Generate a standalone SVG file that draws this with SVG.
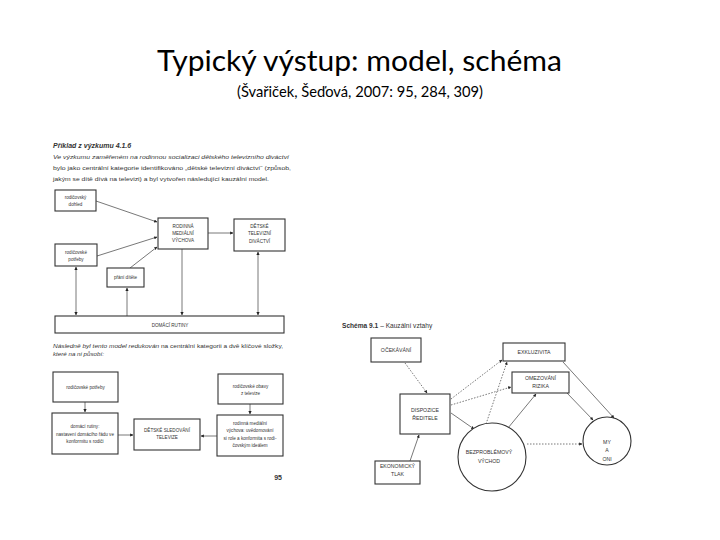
<svg xmlns="http://www.w3.org/2000/svg" width="720" height="540" viewBox="0 0 720 540">
<defs>
<marker id="ah" viewBox="0 0 10 10" refX="9" refY="5" markerWidth="4" markerHeight="4" orient="auto-start-reverse">
<path d="M0,0 L10,5 L0,10 z" fill="#222"/>
</marker>
<style>
.t{font-family:"Lato","Liberation Sans",sans-serif;fill:#000}
.s{font-family:"Liberation Sans",Arial,sans-serif;fill:#333}
.lb{font-family:"Liberation Sans",Arial,sans-serif;font-size:4.6px;fill:#333;text-anchor:middle}
.rb{font-family:"Liberation Sans",Arial,sans-serif;font-size:5.2px;fill:#333;text-anchor:middle}
.bx{fill:#fff;stroke:#333;stroke-width:1.1}
.ln{fill:none;stroke:#666;stroke-width:0.8}
.ar{fill:none;stroke:#555;stroke-width:0.8;marker-end:url(#ah)}
.dar{fill:none;stroke:#555;stroke-width:0.8;marker-end:url(#ah);marker-start:url(#ah)}
.dot{fill:none;stroke:#555;stroke-width:0.8;stroke-dasharray:1.5 1.5;marker-end:url(#ah)}
</style>
</defs>
<rect width="720" height="540" fill="#fff"/>

<g id="title">
<text class="t" x="359.5" y="71" font-size="28" text-anchor="middle" textLength="405" lengthAdjust="spacingAndGlyphs">Typický výstup: model, schéma</text>
<text class="t" x="360" y="97" font-size="15" text-anchor="middle" textLength="246" lengthAdjust="spacingAndGlyphs">(Švařiček, Šeďová, 2007: 95, 284, 309)</text>
</g>

<g id="left-text">
<text class="s" x="53" y="148" font-size="7" font-weight="bold" font-style="italic">Příklad z výzkumu 4.1.6</text>
<text class="s" x="53" y="159" font-size="6.2" font-style="italic" textLength="236" lengthAdjust="spacingAndGlyphs">Ve výzkumu zaměřeném na rodinnou socializaci dětského televizního diváctví</text>
<text class="s" x="53" y="170" font-size="6.2" textLength="238" lengthAdjust="spacingAndGlyphs">bylo jako centrální kategorie identifikováno „dětské televizní diváctví“ (způsob,</text>
<text class="s" x="53" y="181" font-size="6.2" textLength="216" lengthAdjust="spacingAndGlyphs">jakým se dítě dívá na televizi) a byl vytvořen následující kauzální model.</text>
<text class="s" x="53" y="348" font-size="6.2" textLength="230" lengthAdjust="spacingAndGlyphs"><tspan font-style="italic">Následně byl tento model redukován</tspan> na centrální kategorii a dvě klíčové složky,</text>
<text class="s" x="53" y="356" font-size="6.2" font-style="italic">které na ni působí:</text>
<text class="s" x="282" y="480" font-size="7" font-weight="bold" text-anchor="end">95</text>
</g>

<g id="left-connectors">
<path class="ar" d="M96,201 L157,222"/>
<path class="ar" d="M97,256 L157,237"/>
<path class="ar" d="M130,268 L157,247"/>
<path class="ar" d="M208,233 L233,233"/>
<path class="ar" d="M182,249 L182,315"/>
<path class="dar" d="M258,252 L258,315"/>
<path class="dar" d="M76,267 L76,315"/>
<path class="ar" d="M127,316 L127,288"/>
<path class="ar" d="M85,402 L85,412"/>
<path class="ar" d="M250,404 L250,414"/>
<path class="ar" d="M118,435 L133,435"/>
<path class="ar" d="M217,436 L201,436"/>
</g>

<g id="n-rodicovsky-dohled">
<rect class="bx" x="55" y="190" width="41" height="21"/>
<text class="lb" x="75.5" y="198.5">rodičovský</text>
<text class="lb" x="75.5" y="205.5">dohled</text>
</g>
<g id="n-rodinna-medialni-vychova">
<rect class="bx" x="158" y="218" width="50" height="31"/>
<text class="lb" x="183" y="227.5">RODINNÁ</text>
<text class="lb" x="183" y="234.5">MEDIÁLNÍ</text>
<text class="lb" x="183" y="242">VÝCHOVA</text>
</g>
<g id="n-detske-televizni-divactvi">
<rect class="bx" x="234" y="219" width="51" height="32"/>
<text class="lb" x="259.5" y="228">DĚTSKÉ</text>
<text class="lb" x="259.5" y="235">TELEVIZNÍ</text>
<text class="lb" x="259.5" y="242.5">DIVÁCTVÍ</text>
</g>
<g id="n-rodicovske-potreby">
<rect class="bx" x="55" y="244" width="42" height="22"/>
<text class="lb" x="76" y="253.5">rodičovské</text>
<text class="lb" x="76" y="260.5">potřeby</text>
</g>
<g id="n-prani-ditete">
<rect class="bx" x="107" y="268" width="37" height="19"/>
<text class="lb" x="125.5" y="279">přání dítěte</text>
</g>
<g id="n-domaci-rutiny">
<rect class="bx" x="55" y="316" width="229" height="17"/>
<text class="lb" x="170" y="327">DOMÁCÍ RUTINY</text>
</g>

<g id="n-b-rodicovske-potreby">
<rect class="bx" x="53" y="372" width="65" height="30"/>
<text class="lb" x="85.5" y="389">rodičovské potřeby</text>
</g>
<g id="n-b-domaci-rutiny">
<rect class="bx" x="52" y="413" width="66" height="41"/>
<text class="lb" x="85" y="428">domácí rutiny:</text>
<text class="lb" x="85" y="435.5">nastavení domácího řádu ve</text>
<text class="lb" x="85" y="443">konformitu s rodiči</text>
</g>
<g id="n-b-detske-sledovani">
<rect class="bx" x="134" y="419" width="66" height="31"/>
<text class="lb" x="167" y="431.5">DĚTSKÉ SLEDOVÁNÍ</text>
<text class="lb" x="167" y="438.5">TELEVIZE</text>
</g>
<g id="n-b-rodicovske-obavy">
<rect class="bx" x="218" y="374" width="65" height="30"/>
<text class="lb" x="250.5" y="388">rodičovské obavy</text>
<text class="lb" x="250.5" y="395">z televize</text>
</g>
<g id="n-b-rodinna-vychova">
<rect class="bx" x="217" y="415" width="66" height="41"/>
<text class="lb" x="250" y="424.5">rodinná mediální</text>
<text class="lb" x="250" y="432">výchova: uvědomování</text>
<text class="lb" x="250" y="439.5">si role a konformita s rodi-</text>
<text class="lb" x="250" y="447">čovským ideálem</text>
</g>

<g id="right-title">
<text class="s" x="342" y="328" font-size="6.6"><tspan font-weight="bold">Schéma 9.1</tspan> – Kauzální vztahy</text>
</g>

<g id="right-connectors">
<path class="dot" d="M405,363 L427,393"/>
<path class="ar" d="M410,461 L419,435"/>
<path class="dot" d="M451,399 L502,360"/>
<path class="dot" d="M451,405 L511,387"/>
<path class="ar" d="M451,413 L474,429"/>
<path class="dot" d="M486,424 L507,362"/>
<path class="ar" d="M508,428 L536,394"/>
<path class="dot" d="M527,444 L582,444"/>
<path class="ar" d="M563,362 L614,418"/>
<path class="ar" d="M567,393 L593,420"/>
</g>

<g id="n-ocekavani">
<rect class="bx" x="371" y="338" width="50" height="24"/>
<text class="rb" x="396" y="352">OČEKÁVÁNÍ</text>
</g>
<g id="n-exkluzivita">
<rect class="bx" x="503" y="343" width="62" height="18"/>
<text class="rb" x="534" y="354">EXKLUZIVITA</text>
</g>
<g id="n-omezovani-rizika">
<rect class="bx" x="512" y="372" width="57" height="21"/>
<text class="rb" x="540.5" y="380">OMEZOVÁNÍ</text>
<text class="rb" x="540.5" y="388">RIZIKA</text>
</g>
<g id="n-dispozice-reditele">
<rect class="bx" x="400" y="394" width="50" height="40"/>
<text class="rb" x="425" y="412">DISPOZICE</text>
<text class="rb" x="425" y="420">ŘEDITELE</text>
</g>
<g id="n-ekonomicky-tlak">
<rect class="bx" x="375" y="461" width="45" height="23"/>
<text class="rb" x="397.5" y="468">EKONOMICKÝ</text>
<text class="rb" x="397.5" y="476">TLAK</text>
</g>
<g id="n-bezproblemovy-vychod">
<circle class="bx" cx="492" cy="457" r="34"/>
<text class="rb" x="489" y="454">BEZPROBLÉMOVÝ</text>
<text class="rb" x="489" y="463">VÝCHOD</text>
</g>
<g id="n-my-a-oni">
<circle class="bx" cx="607" cy="441" r="24"/>
<text class="rb" x="607" y="444">MY</text>
<text class="rb" x="607" y="452">A</text>
<text class="rb" x="607" y="461">ONI</text>
</g>
</svg>
